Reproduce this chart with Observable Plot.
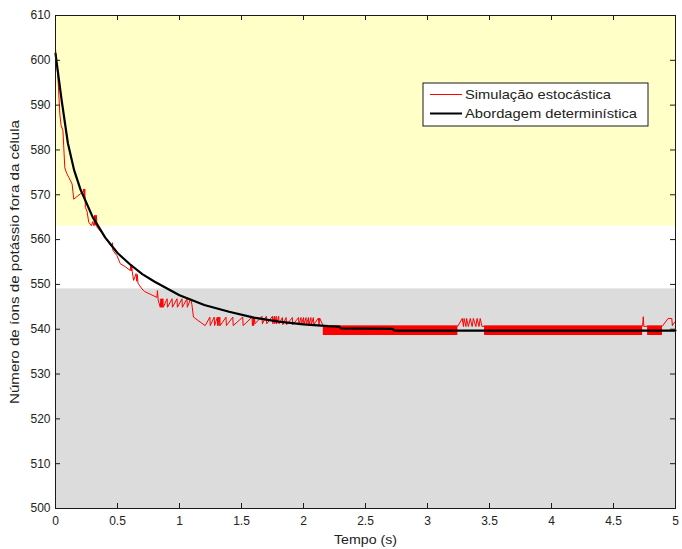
<!DOCTYPE html>
<html><head><meta charset="utf-8">
<script src="https://cdn.jsdelivr.net/npm/d3@7"></script>
<script src="https://cdn.jsdelivr.net/npm/@observablehq/plot@0.6"></script>
<style>body{margin:0;background:#fff}</style>
</head><body><div id="chart"></div>
<script>
// ---- data ----
const xTicks = [0, 0.5, 1, 1.5, 2, 2.5, 3, 3.5, 4, 4.5, 5];
const yTicks = [500, 510, 520, 530, 540, 550, 560, 570, 580, 590, 600, 610];

// deterministic approach (black)
const detT = [0, 0.05, 0.1, 0.15, 0.2, 0.3, 0.4, 0.5, 0.6, 0.7, 0.8, 0.9, 1.0, 1.2, 1.4, 1.6, 1.8, 2.0, 2.2, 2.29, 2.3, 2.72, 2.73, 5];
const detV = [601.5, 591, 581.5, 575.5, 571.3, 565, 560.5, 557, 554.5, 552.3, 550.6, 549.1, 547.6, 545.4, 543.9, 542.6, 541.7, 541.1, 540.7, 540.6, 540.2, 540.1, 539.7, 539.7];

// stochastic simulation (red)
const stoT = [0, 0.02, 0.035, 0.045, 0.06, 0.075, 0.09, 0.107, 0.134, 0.147, 0.2, 0.225, 0.228, 0.232, 0.236, 0.241, 0.255, 0.268, 0.29, 0.3, 0.31, 0.315, 0.318, 0.322, 0.326, 0.33, 0.334, 0.38, 0.42, 0.456, 0.459, 0.463, 0.496, 0.523, 0.56, 0.603, 0.607, 0.611, 0.615, 0.619, 0.63, 0.65, 0.655, 0.66, 0.665, 0.697, 0.72, 0.818, 0.822, 0.828, 0.845, 0.85, 0.853, 0.858, 0.861, 0.866, 0.869, 0.9, 0.903, 0.94, 0.943, 0.98, 0.983, 1.02, 1.023, 1.06, 1.063, 1.09, 1.1, 1.113, 1.207, 1.245, 1.248, 1.28, 1.283, 1.305, 1.308, 1.315, 1.318, 1.325, 1.328, 1.375, 1.378, 1.43, 1.433, 1.51, 1.513, 1.585, 1.588, 1.595, 1.598, 1.605, 1.608, 1.665, 1.668, 1.7, 1.703, 1.75, 1.753, 1.765, 1.768, 1.78, 1.783, 1.8, 1.803, 1.83, 1.833, 1.86, 1.863, 1.91, 1.913, 1.96, 1.963, 1.98, 1.983, 2.0, 2.003, 2.02, 2.023, 2.04, 2.043, 2.06, 2.063, 2.08, 2.083, 2.12, 2.125, 2.13, 2.16, 3.245, 3.28, 3.29, 3.295, 3.31, 3.315, 3.33, 3.345, 3.36, 3.37, 3.39, 3.4, 3.415, 3.425, 3.44, 3.46, 4.735, 4.74, 4.745, 4.775, 4.895, 4.94, 4.97, 4.975, 4.99, 5];
const stoV = [602.5, 596, 588, 585.5, 584.3, 576, 574.8, 573.9, 572.4, 569, 570.2, 570.6, 571.3, 569.8, 571.3, 567.2, 566.2, 563.9, 563.1, 564, 563.1, 565.4, 563.2, 565.4, 563.2, 565.4, 562.8, 561.3, 559.6, 558.3, 559.3, 557.6, 556.4, 554.6, 554, 553.1, 554.4, 553, 554.4, 552.8, 550.9, 552.4, 550.7, 552.2, 550.3, 549, 548.4, 547.1, 548.6, 546.5, 544.9, 546.8, 544.9, 546.8, 544.9, 546.8, 544.9, 546.8, 544.9, 546.8, 544.9, 546.8, 544.9, 546.8, 544.9, 546.8, 544.9, 546.8, 545.5, 542.7, 540.8, 542.7, 540.8, 542.7, 540.8, 542.7, 540.8, 542.7, 540.8, 542.7, 540.8, 542.7, 540.8, 542.7, 540.8, 542.7, 540.8, 542.7, 540.8, 542.7, 540.8, 542.7, 541.2, 542.9, 541.2, 542.9, 541.2, 542.9, 541.2, 542.9, 541.2, 542.9, 541.2, 542.9, 541.2, 542.6, 541, 542.6, 541, 542.6, 541, 542.6, 541, 542.6, 541, 542.6, 541, 542.6, 541, 542.6, 541, 542.6, 541, 542.6, 541, 542.5, 541, 542.5, 540.7, 540.7, 542.4, 540.6, 542.4, 540.6, 542.4, 540.6, 542.4, 540.6, 542.4, 540.6, 542.4, 540.6, 542.4, 540.6, 540.7, 540.7, 542.8, 540.6, 540.7, 540.7, 542.4, 542.4, 540.8, 541.5, 541.7];

// dense oscillation zones of the stochastic run (appear as solid red bands)
const denseStart = [2.16, 3.46, 4.775];
const denseEnd = [3.245, 4.735, 4.895];
const denseLo = [538.6, 538.6, 538.6];
const denseHi = [540.7, 540.7, 540.7];

// background bands
const bandLo = [563, 500];
const bandHi = [610, 549];
const bandColor = ["#ffffc8", "#dcdcdc"];

const seriesNames = ["Simulação estocástica", "Abordagem determinística"];
const seriesColors = ["#ff0000", "#000000"];
const xLabel = "Tempo (s)";
const yLabel = "Número de íons de potássio fora da célula";

// ---- build tables ----
const det = detT.map((t, i) => ({t, v: detV[i]}));
const sto = stoT.map((t, i) => ({t, v: stoV[i]}));
const dense = denseStart.map((s, i) => ({s, e: denseEnd[i], lo: denseLo[i], hi: denseHi[i]}));
const bands = bandLo.map((lo, i) => ({lo, hi: bandHi[i], color: bandColor[i]}));

const W = 682, H = 549, mL = 55, mR = 7, mT = 15, mB = 41;
const innerW = W - mL - mR, innerH = H - mT - mB;
const axisColor = "#1a1a1a";
const font = "'Liberation Sans', Arial, Helvetica, sans-serif";

const plot = Plot.plot({
  width: W, height: H,
  marginLeft: mL, marginRight: mR, marginTop: mT, marginBottom: mB,
  style: {fontFamily: font, fontSize: "12px", background: "#fff", color: "#222", overflow: "visible"},
  x: {domain: [0, 5]},
  y: {domain: [500, 610]},
  marks: [
    Plot.rect(bands, {y1: "lo", y2: "hi", fill: "color"}),
    Plot.rect(dense, {x1: "s", x2: "e", y1: "lo", y2: "hi", fill: seriesColors[0]}),
    Plot.line(sto, {x: "t", y: "v", stroke: seriesColors[0], strokeWidth: 1}),
    Plot.line(det, {x: "t", y: "v", stroke: seriesColors[1], strokeWidth: 2.2}),
    Plot.frame({stroke: axisColor}),
    Plot.ruleX(xTicks, {insetTop: innerH - 5, stroke: axisColor}),
    Plot.ruleX(xTicks, {insetBottom: innerH - 5, stroke: axisColor}),
    Plot.ruleY(yTicks, {insetRight: innerW - 5, stroke: axisColor}),
    Plot.ruleY(yTicks, {insetLeft: innerW - 5, stroke: axisColor}),
    Plot.axisX(xTicks, {tickSize: 0, tickPadding: 8, label: null, tickFormat: d => String(d)}),
    Plot.axisY(yTicks, {tickSize: 0, tickPadding: 5, label: null}),
    Plot.text([xLabel], {frameAnchor: "bottom", dy: 35, fontSize: 13, fill: "#222"}),
    Plot.text([yLabel], {frameAnchor: "left", dx: -41, rotate: -90, fontSize: 13, textAnchor: "middle", fill: "#222"})
  ]
});

const svg = d3.select(plot);
// widen axis titles to match the reference's wide type
svg.selectAll("text").filter(function() { return this.textContent === yLabel; })
  .attr("textLength", 284).attr("lengthAdjust", "spacingAndGlyphs");
svg.selectAll("text").filter(function() { return this.textContent === xLabel; })
  .attr("textLength", 63).attr("lengthAdjust", "spacingAndGlyphs");

// legend inside the plot, top-right
const lgW = 225, lgH = 43;
const lgX = W - mR - 27 - lgW, lgY = mT + 68;
const lg = svg.append("g").attr("transform", `translate(${lgX},${lgY})`);
lg.append("rect").attr("width", lgW).attr("height", lgH).attr("fill", "#fff").attr("stroke", axisColor);
const lgLen = [146, 172];
seriesNames.forEach((name, i) => {
  const yy = 11.5 + i * 19;
  lg.append("line").attr("x1", 7).attr("x2", 39).attr("y1", yy).attr("y2", yy)
    .attr("stroke", seriesColors[i]).attr("stroke-width", i === 0 ? 1 : 2);
  lg.append("text").attr("x", 42).attr("y", yy + 4.5).attr("font-family", font)
    .attr("text-anchor", "start")
    .attr("font-size", 13.5).attr("fill", "#222")
    .attr("textLength", lgLen[i]).attr("lengthAdjust", "spacingAndGlyphs")
    .text(name);
});

document.getElementById("chart").appendChild(plot);
</script>
</body></html>
